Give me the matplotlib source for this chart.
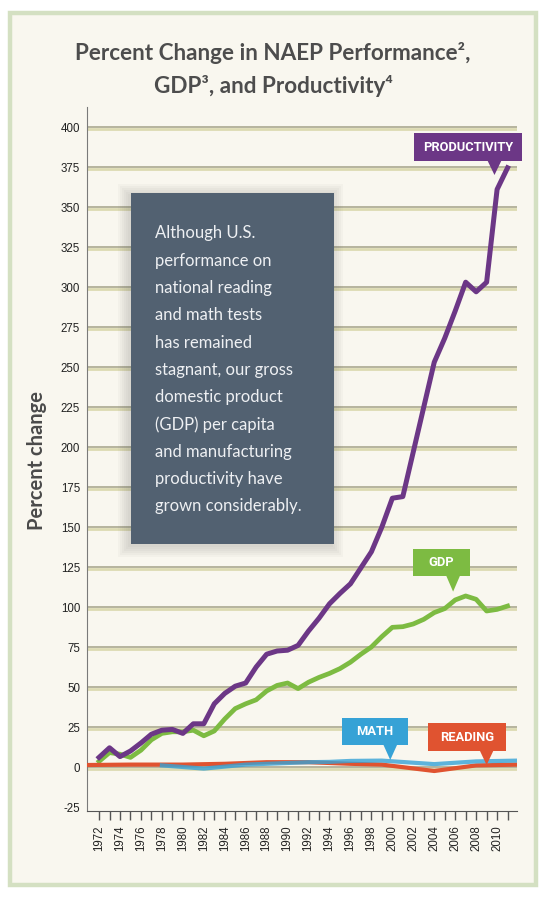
import matplotlib
matplotlib.use('Agg')
import matplotlib.pyplot as plt
import matplotlib.patheffects as pe
from matplotlib.patches import Rectangle, Polygon

# data ##########################################################################
years = list(range(1972, 2012))
productivity = [6, 12, 6.5, 10, 15, 20.5, 23, 23.5, 21, 27, 27, 39.5, 46, 50.5, 52.5,
                62.5, 70.5, 72.5, 73, 76, 85, 93, 102, 108.5, 114.5, 124.5, 134.5, 150,
                168, 169, 197, 225, 253, 268, 285, 303, 297, 303, 361, 374.5]
gdp = [3.5, 9, 8, 6, 10.5, 17, 21, 22, 22, 23, 19.5, 22.5, 30, 36.5, 39.5, 42, 47.5,
       51, 52.5, 49, 53, 56, 58.5, 61.5, 65.5, 70.5, 75, 81.5, 87.3, 87.7, 89.4, 92.3,
       96.5, 99, 104.4, 106.9, 104.8, 97.5, 98.5, 100.6]
reading_years = [1971, 1975, 1980, 1984, 1988, 1990, 1992, 1994, 1996, 1999, 2004, 2008, 2012]
reading = [1.25, 1.5, 1.5, 2, 3, 3, 3, 2.5, 2, 1.5, -2.5, 1, 1.5]
math_years = [1978, 1982, 1986, 1990, 1992, 1994, 1996, 1999, 2004, 2008, 2012]
math = [1, -1, 1.5, 2.5, 3, 3.2, 3.8, 4, 1.8, 3.5, 4]
yticks = list(range(-25, 401, 25))
xticks = list(range(1972, 2012))

title_1 = 'Percent Change in NAEP Performance\u00b2,'
title_2 = 'GDP\u00b3, and Productivity\u2074'
note_lines = ['Although U.S.', 'performance on', 'national reading', 'and math tests',
              'has remained', 'stagnant, our gross', 'domestic product',
              '(GDP) per capita', 'and manufacturing', 'productivity have',
              'grown considerably.']

PURPLE = '#6c3786'
GREEN = '#7dbb42'
BLUE = '#36a2d6'
RED = '#e05330'
CREAM = '#f9f7ef'
W, H = 557, 899

fig = plt.figure(figsize=(W / 100, H / 100), dpi=100)
fig.patch.set_facecolor('white')


def fx(px):
    return px / W


def fy(py):
    return 1 - py / H


# frame
fig.patches.append(Rectangle((fx(10), fy(885)), fx(526), 872 / H, transform=fig.transFigure,
                             facecolor=CREAM, edgecolor='#d4e0c2', linewidth=3.2, zorder=-5))

ax = fig.add_axes([fx(87), fy(811), fx(430), 704 / H])
ax.set_facecolor('none')
ax.set_zorder(1)
ax.set_xlim(1970.85, 2011.9)
ax.set_ylim(-27.5, 412.5)

# grid lines (dark line with a light band under it)
for v in yticks:
    if v < 0:
        continue
    ax.axhline(v, color='#a3a287', lw=1.1, zorder=1,
               path_effects=[pe.SimpleLineShadow(offset=(0, -1.3), shadow_color='#dcdab2',
                                                 alpha=1, linewidth=2.0), pe.Normal()])

ax.plot(years, gdp, color=GREEN, lw=3.4, zorder=3)
ax.plot(years, productivity, color=PURPLE, lw=3.6, zorder=4)
ax.plot(reading_years, reading, color=RED, lw=3.0, zorder=3)
ax.plot(math_years, math, color=BLUE, lw=3.0, alpha=0.8, zorder=3)

for s in ['top', 'right']:
    ax.spines[s].set_visible(False)
ax.spines['left'].set_color('#7a7a7a')
ax.spines['bottom'].set_color('#555555')

ax.set_yticks(yticks)
ax.set_yticklabels([str(v) for v in yticks], fontsize=8.3, family='Liberation Sans', color='#222222')
ax.tick_params(axis='y', length=0, pad=5)
ax.set_xticks(xticks)
ax.set_xticklabels([str(y) if y % 2 == 0 else '' for y in xticks], rotation=90,
                   fontsize=8.3, family='Liberation Sans', color='#222222')
ax.tick_params(axis='x', length=6.5, width=1.0, color='#555555', pad=4)

fig.text(fx(37), fy(461), 'Percent change', rotation=90, ha='center', va='center',
         fontsize=14.5, family='Lato', fontweight='bold', color='#4a4a4a')

# title
fig.text(fx(273), fy(53), title_1, ha='center', va='center', fontsize=16.2,
         family=['Lato', 'DejaVu Sans'], fontweight='bold', color='#4d4d4d')
fig.text(fx(273), fy(86), title_2, ha='center', va='center', fontsize=16.2,
         family=['Lato', 'DejaVu Sans'], fontweight='bold', color='#4d4d4d')

# note box with soft shadow
bx0, by0, bx1, by1 = 131, 193, 334, 544
for i in range(6):
    g = 1 + i * 2.0
    fig.patches.append(Rectangle((fx(bx0 - g - 2), fy(by1 + g + 2)), fx(bx1 - bx0 + 2 * g),
                                 (by1 - by0 + 2 * g) / H, transform=fig.transFigure,
                                 facecolor='#555555', edgecolor='none', alpha=0.035, zorder=5))
fig.patches.append(Rectangle((fx(bx0), fy(by1)), fx(bx1 - bx0), (by1 - by0) / H,
                             transform=fig.transFigure, facecolor='#526171',
                             edgecolor='none', zorder=6))
for i, line in enumerate(note_lines):
    fig.text(fx(155), fy(233.3 + i * 27.3), line, ha='left', va='center', fontsize=12,
             family='Lato', fontweight='normal', color='#eef0f3', zorder=7)


# callouts
def callout(tx, ty, text, color, left, right, bottom, top):
    fig.canvas.draw()
    disp = ax.transData.transform((tx, ty))
    px, py = disp[0], H - disp[1]
    box = Rectangle((fx(px + left), fy(py - bottom)), fx(right - left), (top - bottom) / H,
                    transform=fig.transFigure, facecolor=color, edgecolor='none', zorder=8)
    fig.patches.append(box)
    tri = Polygon([(fx(px - 7), fy(py - bottom - 0.5)), (fx(px + 7), fy(py - bottom - 0.5)),
                   (fx(px), fy(py))], closed=True, transform=fig.transFigure,
                  facecolor=color, edgecolor='none', zorder=8)
    fig.patches.append(tri)
    fig.text(fx(px + (left + right) / 2), fy(py - (bottom + top) / 2 + 0.5), text,
             ha='center', va='center', fontsize=9.3, family='Roboto', fontweight='bold',
             color='white', zorder=9)


callout(2009.75, 370, 'PRODUCTIVITY', PURPLE, -80, 28, 14, 42)
callout(2005.8, 109.6, 'GDP', GREEN, -40, 16.6, 15.7, 42.7)
callout(1999.8, 4.4, 'MATH', BLUE, -48.3, 17.3, 15, 42.3)
callout(2009.0, 1.25, 'READING', RED, -58.4, 19.3, 14.3, 42.3)

fig.savefig('out.png', dpi=100, facecolor='white')
